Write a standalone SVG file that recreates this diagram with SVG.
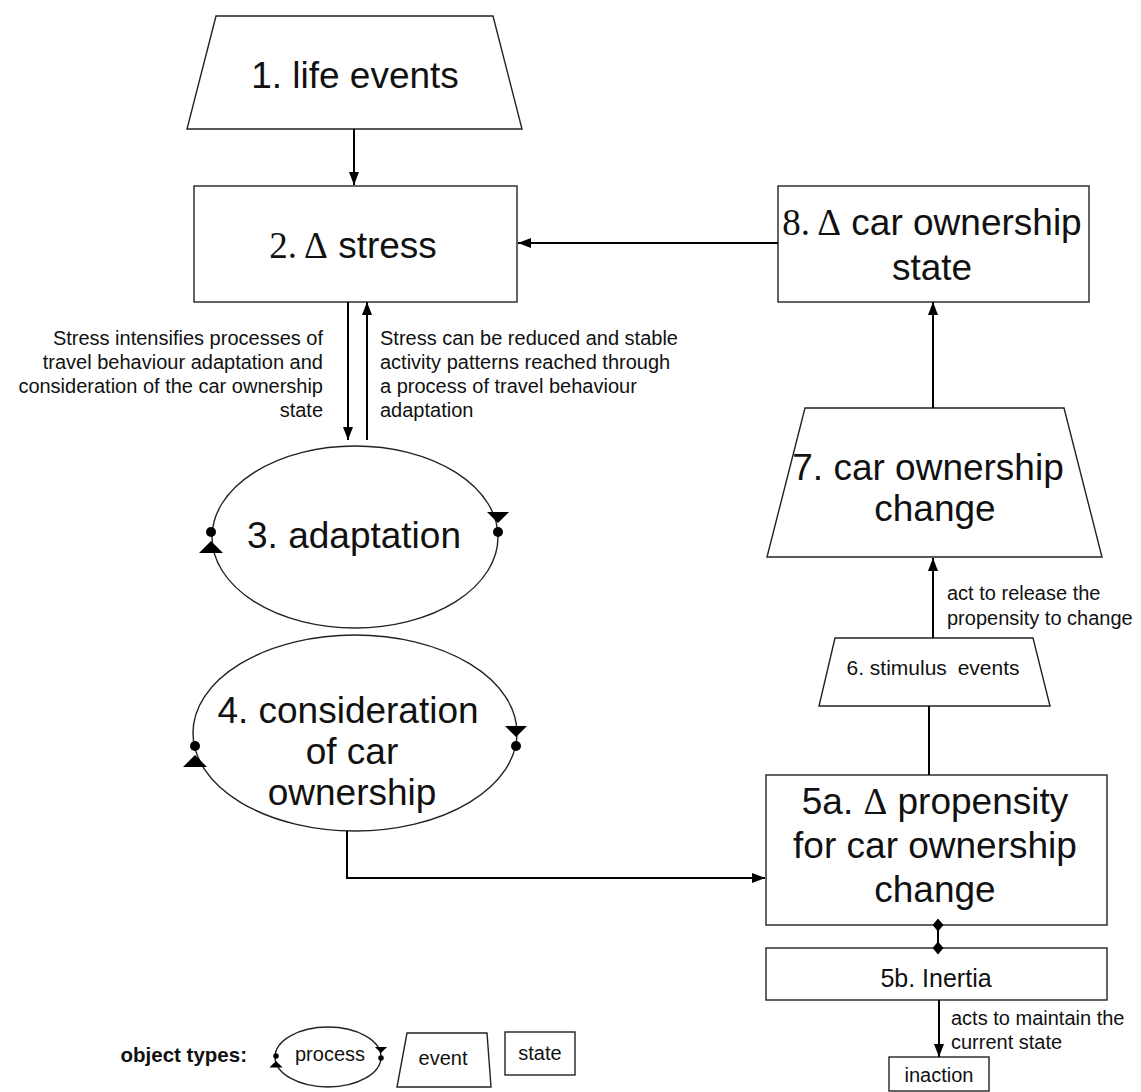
<svg xmlns="http://www.w3.org/2000/svg" width="1141" height="1092" viewBox="0 0 1141 1092">
<style>
.shape{fill:#fff;stroke:#222;stroke-width:1.4}
.conn{stroke:#000;stroke-width:2;fill:none}
text{font-family:"Liberation Sans",Arial,sans-serif;fill:#111}
.big{font-size:37px;text-anchor:middle}
.ser{font-family:"Liberation Serif","Times New Roman",serif}
.lbl{font-size:20px}
.r{text-anchor:end}
.mid{text-anchor:middle}
</style>
<defs>
<marker id="arr" viewBox="0 0 13 10" markerWidth="13" markerHeight="10" refX="13" refY="5" orient="auto" markerUnits="userSpaceOnUse">
<path d="M0,0 L13,5 L0,10 z" fill="#000"/>
</marker>
<marker id="dia" viewBox="0 0 13 11" markerWidth="13" markerHeight="11" refX="6.5" refY="5.5" orient="auto" markerUnits="userSpaceOnUse">
<path d="M0,5.5 L6.5,0 L13,5.5 L6.5,11 z" fill="#000"/>
</marker>
<g id="procR">
<path d="M-11,-20 L11,-20 L0,-9 z" fill="#000"/>
<circle cx="0" cy="0" r="5" fill="#000"/>
</g>
<g id="procL">
<path d="M-12,21 L12,21 L0,9 z" fill="#000"/>
<circle cx="0" cy="0" r="5" fill="#000"/>
</g>
</defs>

<g id="n1">
<polygon class="shape" points="216,16 493,16 522,129 187,129"/>
<text class="big" x="355" y="88">1. life events</text>
</g>

<g id="n2">
<rect class="shape" x="194" y="186" width="323" height="116"/>
<text class="big" x="353" y="258"><tspan class="ser">2. Δ</tspan> stress</text>
</g>

<g id="n8">
<rect class="shape" x="778" y="186" width="311" height="116"/>
<text class="big" x="932" y="235"><tspan class="ser">8. Δ</tspan> car ownership</text>
<text class="big" x="932" y="280">state</text>
</g>

<g id="n7">
<polygon class="shape" points="805,408 1064,408 1102,557 767,557"/>
<text class="big" x="928" y="480">7. car ownership</text>
<text class="big" x="935" y="521">change</text>
</g>

<g id="n6">
<polygon class="shape" points="835,638 1033,638 1050,706 819,706"/>
<text class="mid" x="933" y="675" font-size="21">6. stimulus <tspan dx="5">events</tspan></text>
</g>

<g id="n3">
<ellipse class="shape" cx="355" cy="537" rx="143" ry="91"/>
<use href="#procL" x="211" y="532"/>
<use href="#procR" x="498" y="532"/>
<text class="big" x="354" y="548">3. adaptation</text>
</g>

<g id="n4">
<ellipse class="shape" cx="355" cy="733" rx="162" ry="98"/>
<use href="#procL" x="195" y="746"/>
<use href="#procR" x="516" y="746"/>
<text class="big" x="348" y="723">4. consideration</text>
<text class="big" x="352" y="764">of car</text>
<text class="big" x="352" y="805">ownership</text>
</g>

<g id="n5a">
<rect class="shape" x="766" y="775" width="341" height="150"/>
<text class="big" x="935" y="814">5a. <tspan class="ser">Δ</tspan> propensity</text>
<text class="big" x="935" y="858">for car ownership</text>
<text class="big" x="935" y="902">change</text>
</g>

<g id="n5b">
<rect class="shape" x="766" y="948" width="341" height="52"/>
<text class="mid" x="936" y="987" font-size="25">5b. Inertia</text>
</g>

<g id="inaction">
<rect class="shape" x="889" y="1057" width="100" height="34"/>
<text class="lbl mid" x="939" y="1082">inaction</text>
</g>

<g id="connectors">
<line class="conn" x1="354" y1="129" x2="354" y2="185" marker-end="url(#arr)"/>
<line class="conn" x1="778" y1="243" x2="518" y2="243" marker-end="url(#arr)"/>
<line class="conn" x1="348" y1="302" x2="348" y2="440" marker-end="url(#arr)"/>
<line class="conn" x1="367" y1="440" x2="367" y2="302" marker-end="url(#arr)"/>
<line class="conn" x1="933" y1="408" x2="933" y2="302" marker-end="url(#arr)"/>
<line class="conn" x1="933" y1="638" x2="933" y2="558" marker-end="url(#arr)"/>
<line class="conn" x1="929" y1="706" x2="929" y2="775"/>
<polyline class="conn" points="347,831 347,878 765,878" marker-end="url(#arr)"/>
<line class="conn" x1="938" y1="925" x2="938" y2="948" marker-start="url(#dia)" marker-end="url(#dia)"/>
<line class="conn" x1="939" y1="1000" x2="939" y2="1057" marker-end="url(#arr)"/>
</g>

<g id="labels">
<text class="lbl r" x="323" y="345">Stress intensifies processes of</text>
<text class="lbl r" x="323" y="369">travel behaviour adaptation and</text>
<text class="lbl r" x="323" y="393">consideration of the car ownership</text>
<text class="lbl r" x="323" y="417">state</text>
<text class="lbl" x="380" y="345">Stress can be reduced and stable</text>
<text class="lbl" x="380" y="369">activity patterns reached through</text>
<text class="lbl" x="380" y="393">a process of travel behaviour</text>
<text class="lbl" x="380" y="417">adaptation</text>
<text class="lbl" x="947" y="600">act to release the</text>
<text class="lbl" x="947" y="625">propensity to change</text>
<text class="lbl" x="951" y="1025">acts to maintain the</text>
<text class="lbl" x="951" y="1049">current state</text>
</g>

<g id="legend">
<text x="247" y="1062" font-size="20.5" font-weight="bold" text-anchor="end">object types:</text>
<ellipse class="shape" cx="328" cy="1057" rx="53" ry="30"/>
<use href="#procL" transform="translate(276,1056) scale(0.55)"/>
<use href="#procR" transform="translate(381,1058) scale(0.55)"/>
<text class="lbl mid" x="330" y="1061">process</text>
<polygon class="shape" points="407,1033 487,1033 491,1087 397,1087"/>
<text class="lbl mid" x="443" y="1065">event</text>
<rect class="shape" x="505" y="1032" width="70" height="43"/>
<text class="lbl mid" x="540" y="1060">state</text>
</g>
</svg>
